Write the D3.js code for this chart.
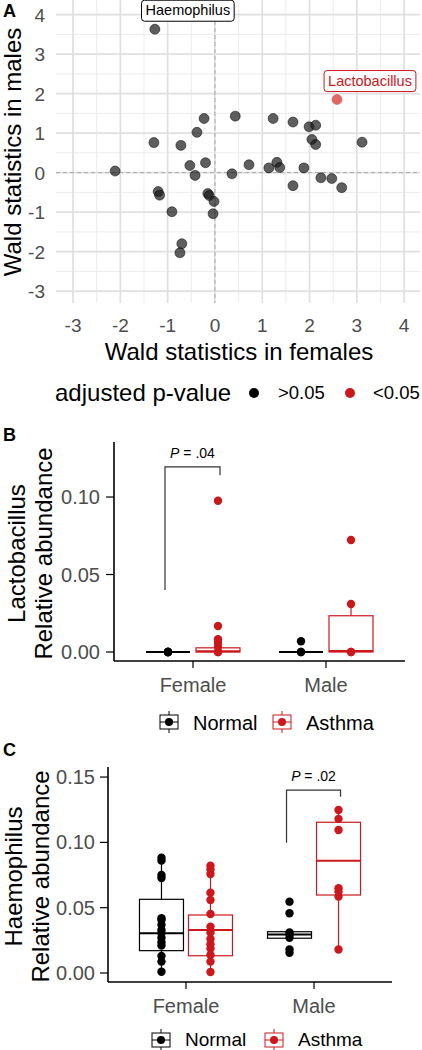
<!DOCTYPE html>
<html><head><meta charset="utf-8">
<script src="https://cdn.jsdelivr.net/npm/d3@7"></script>
<style>body{margin:0;background:#fff}svg{display:block;font-family:"Liberation Sans",Arial,sans-serif}</style>
</head><body>
<script>
// ---------- Panel A data ----------
const waldFemales = [-1.27,-1.29,-0.72,-0.38,-0.23,-2.11,-0.53,-0.42,-0.2,-1.2,-1.17,0.43,1.23,1.65,1.99,2.13,2.05,2.13,3.11,0.36,0.72,1.14,1.31,1.37,1.88,1.65,2.24,2.47,2.68,-0.15,-0.12,-0.02,-0.91,-0.04,-0.7,-0.74,2.58];
const waldMales   = [3.63,0.76,0.69,1.02,1.37,0.04,0.18,-0.07,0.25,-0.48,-0.57,1.43,1.37,1.28,1.16,1.2,0.84,0.71,0.77,-0.03,0.2,0.12,0.26,0.13,0.12,-0.33,-0.13,-0.15,-0.38,-0.53,-0.58,-0.73,-0.99,-1.04,-1.8,-2.03,1.85];
const significant = [0,0,0,0,0,0,0,0,0,0,0,0,0,0,0,0,0,0,0,0,0,0,0,0,0,0,0,0,0,0,0,0,0,0,0,0,1];
const genusLabels = {0:"Haemophilus",36:"Lactobacillus"};
const axisTicksA = [-3,-2,-1,0,1,2,3,4];
const legendA = [">0.05","<0.05"];

// ---------- Panel B/C data ----------
const sexes = ["Female","Male"];
const groups = ["Normal","Asthma"];
// box stats [lo, q1, median, q3, hi] per sex x group
const lactoStats = {
  "Female-Normal":[0,0,0,0,0],
  "Female-Asthma":[0,0,0.0005,0.0027,0.006],
  "Male-Normal":[0,0,0,0,0],
  "Male-Asthma":[0,0,0.0006,0.0234,0.031]
};
const lactoPoints = {
  "Female-Normal":[0,0,0,0,0],
  "Female-Asthma":[0,0,0.0034,0.006,0.0082,0.0168,0.0976],
  "Male-Normal":[0,0,0.0069],
  "Male-Asthma":[0,0,0.031,0.0723]
};
const haemoStats = {
  "Female-Normal":[0.001,0.0171,0.0304,0.0564,0.0883],
  "Female-Asthma":[0.0007,0.0132,0.033,0.0444,0.0822],
  "Male-Normal":[0.0266,0.0266,0.0295,0.0316,0.0316],
  "Male-Asthma":[0.018,0.0597,0.086,0.1154,0.1248]
};
const haemoPoints = {
  "Female-Normal":[0.0883,0.086,0.075,0.0727,0.042,0.0406,0.037,0.033,0.0304,0.027,0.0235,0.021,0.013,0.0087,0.001],
  "Female-Asthma":[0.0822,0.0795,0.0758,0.0615,0.0559,0.0452,0.0355,0.031,0.026,0.022,0.0188,0.0138,0.0087,0.0007],
  "Male-Normal":[0.0546,0.0457,0.031,0.0295,0.027,0.0181,0.0155],
  "Male-Asthma":[0.1248,0.118,0.1095,0.0649,0.0623,0.0586,0.018]
};
const lactoTicks = [0,0.05,0.10];
const haemoTicks = [0,0.05,0.10,0.15];
// significance: [sex, leftEnd, rightEnd, top, label]
const lactoSig = ["Female",0.040,0.114,0.1194,".04"];
const haemoSig = ["Male",0.0998,0.135,0.140,".02"];

const RED = "#cb181d", GREY = "#4d4d4d";

const svg = d3.select("body").append("svg").attr("width",422).attr("height",1050);

// ================= Panel A =================
const xA = d3.scaleLinear().domain([-3.36,4.335]).range([56,420]);
const yA = d3.scaleLinear().domain([-3.3,4.37]).range([303,0]);
const gA = svg.append("g");
const minorX = d3.range(-3.5,4.5,1), minorY = d3.range(-3.5,4.5,1);
gA.selectAll(".mgx").data(minorX.filter(v=>xA(v)>=56)).join("line")
  .attr("x1",d=>xA(d)).attr("x2",d=>xA(d)).attr("y1",0).attr("y2",303).attr("stroke","#ececec").attr("stroke-width",1);
gA.selectAll(".mgy").data(minorY.filter(v=>yA(v)<=303)).join("line")
  .attr("y1",d=>yA(d)).attr("y2",d=>yA(d)).attr("x1",56).attr("x2",420).attr("stroke","#ececec").attr("stroke-width",1);
gA.selectAll(".gx").data(axisTicksA).join("line")
  .attr("x1",d=>xA(d)).attr("x2",d=>xA(d)).attr("y1",0).attr("y2",303).attr("stroke","#e0e0e0").attr("stroke-width",1.7);
gA.selectAll(".gy").data(axisTicksA).join("line")
  .attr("y1",d=>yA(d)).attr("y2",d=>yA(d)).attr("x1",56).attr("x2",420).attr("stroke","#e0e0e0").attr("stroke-width",1.7);
gA.append("line").attr("x1",xA(0)).attr("x2",xA(0)).attr("y1",0).attr("y2",303).attr("stroke","#aaaaaa").attr("stroke-dasharray","4,3");
gA.append("line").attr("y1",yA(0)).attr("y2",yA(0)).attr("x1",56).attr("x2",420).attr("stroke","#aaaaaa").attr("stroke-dasharray","4,3");
gA.selectAll(".tx").data(axisTicksA).join("text").attr("x",d=>xA(d)).attr("y",332)
  .attr("text-anchor","middle").attr("font-size",19).attr("fill",GREY).text(d=>d);
gA.selectAll(".ty").data(axisTicksA).join("text").attr("x",45).attr("y",d=>yA(d)+7)
  .attr("text-anchor","end").attr("font-size",19).attr("fill",GREY).text(d=>d);
gA.append("text").attr("x",239).attr("y",360).attr("text-anchor","middle").attr("font-size",24).text("Wald statistics in females");
gA.append("text").attr("transform","translate(21,152) rotate(-90)").attr("text-anchor","middle").attr("font-size",24).text("Wald statistics in males");
const ptsA = waldFemales.map((x,i)=>({x,y:waldMales[i],s:significant[i],i}));
gA.selectAll(".pt").data(ptsA).join("circle").attr("cx",d=>xA(d.x)).attr("cy",d=>yA(d.y)).attr("r",5)
  .attr("fill",d=>d.s?"#d94040":"#1a1a1a").attr("fill-opacity",d=>d.s?0.8:0.7)
  .attr("stroke",d=>d.s?"#d94040":"#000").attr("stroke-opacity",0.6).attr("stroke-width",0.8);
Object.entries(genusLabels).forEach(([i,name])=>{
  const p = ptsA[+i], col = p.s?RED:"#000";
  const cx = xA(p.x)+33, cy = yA(p.y)-19;
  const t = gA.append("text").attr("x",cx).attr("y",cy+5).attr("text-anchor","middle").attr("font-size",14.5).attr("fill",col).text(name);
  const w = t.node().getComputedTextLength()+8;
  gA.insert("rect","text:last-child").attr("x",cx-w/2).attr("y",cy-10).attr("width",w).attr("height",21).attr("rx",3)
    .attr("fill","#fff").attr("stroke",col).attr("stroke-width",1);
  t.raise();
});
svg.append("text").attr("x",3).attr("y",17).attr("font-size",18).attr("font-weight","bold").text("A");
// legend A
svg.append("text").attr("x",55).attr("y",401).attr("font-size",24).text("adjusted p-value");
svg.append("circle").attr("cx",254).attr("cy",393).attr("r",5).attr("fill","#000");
svg.append("text").attr("x",278).attr("y",399).attr("font-size",18.5).text(legendA[0]);
svg.append("circle").attr("cx",350).attr("cy",393).attr("r",5).attr("fill",RED);
svg.append("text").attr("x",373).attr("y",399).attr("font-size",18.5).text(legendA[1]);

// ================= Box panels =================
function boxPanel(cfg){
  const g = svg.append("g");
  const x = d3.scalePoint().domain(sexes).range([cfg.left,cfg.right]).padding(cfg.pad);
  const dx = d3.scalePoint().domain(groups).range([-cfg.dodge,cfg.dodge]);
  const y = d3.scaleLinear().domain(cfg.ydom).range([cfg.bottom,cfg.top]);
  const bw = 44;
  sexes.forEach(s=>groups.forEach(gr=>{
    const key = s+"-"+gr, st = cfg.stats[key], cx = x(s)+dx(gr), col = gr==="Asthma"?RED:"#000";
    g.append("line").attr("x1",cx).attr("x2",cx).attr("y1",y(st[0])).attr("y2",y(st[4])).attr("stroke",col).attr("stroke-width",1.2);
    g.append("rect").attr("x",cx-bw/2).attr("y",y(st[3])).attr("width",bw).attr("height",Math.max(0,y(st[1])-y(st[3])))
      .attr("fill","#fff").attr("stroke",col).attr("stroke-width",1.2);
    g.append("line").attr("x1",cx-bw/2).attr("x2",cx+bw/2).attr("y1",y(st[2])).attr("y2",y(st[2])).attr("stroke",col).attr("stroke-width",2);
    g.selectAll(null).data(cfg.points[key]).join("circle").attr("cx",cx).attr("cy",d=>y(d)).attr("r",4.2).attr("fill",col);
  }));
  // axes
  g.append("line").attr("x1",cfg.left).attr("x2",cfg.left).attr("y1",cfg.top).attr("y2",cfg.bottom).attr("stroke","#000").attr("stroke-width",1.6);
  g.append("line").attr("x1",cfg.left).attr("x2",cfg.right).attr("y1",cfg.bottom).attr("y2",cfg.bottom).attr("stroke","#000").attr("stroke-width",1.6);
  cfg.ticks.forEach(t=>{
    g.append("line").attr("x1",cfg.left-8).attr("x2",cfg.left).attr("y1",y(t)).attr("y2",y(t)).attr("stroke","#000").attr("stroke-width",1.2);
    g.append("text").attr("x",cfg.left-cfg.tickGap).attr("y",y(t)+7).attr("text-anchor","end").attr("font-size",20).attr("fill",GREY).text(d3.format(".2f")(t));
  });
  sexes.forEach(s=>{
    g.append("line").attr("x1",x(s)).attr("x2",x(s)).attr("y1",cfg.bottom).attr("y2",cfg.bottom+7).attr("stroke","#000").attr("stroke-width",1.2);
    g.append("text").attr("x",x(s)).attr("y",cfg.bottom+31).attr("text-anchor","middle").attr("font-size",20).attr("fill",GREY).text(s);
  });
  // y title
  const yc = (cfg.top+cfg.bottom)/2 + 2;
  g.append("text").attr("transform",`translate(${cfg.t1x},${yc}) rotate(-90)`).attr("text-anchor","middle").attr("font-size",24).text(cfg.genus);
  g.append("text").attr("transform",`translate(${cfg.t1x+27},${yc}) rotate(-90)`).attr("text-anchor","middle").attr("font-size",24).text("Relative abundance");
  // significance
  const sg = cfg.sig, xl = x(sg[0])+dx("Normal")-3, xr = x(sg[0])+dx("Asthma")+2;
  g.append("path").attr("d",`M${xl},${y(sg[1])}V${y(sg[3])}H${xr}V${y(sg[2])}`).attr("fill","none").attr("stroke","#333").attr("stroke-width",1.2);
  const tt = g.append("text").attr("x",(xl+xr)/2).attr("y",y(sg[3])-9).attr("text-anchor","middle").attr("font-size",14);
  tt.append("tspan").attr("font-style","italic").text("P");
  tt.append("tspan").text(" = "+sg[4]);
  // panel letter
  svg.append("text").attr("x",3).attr("y",cfg.letterY).attr("font-size",18).attr("font-weight","bold").text(cfg.letter);
  // legend
  const ly = cfg.legendY;
  [[cfg.legX[0],"Normal","#000"],[cfg.legX[1],"Asthma",RED]].forEach(([lx,lab,col])=>{
    g.append("line").attr("x1",lx+9).attr("x2",lx+9).attr("y1",ly-11).attr("y2",ly+11).attr("stroke",col);
    g.append("rect").attr("x",lx).attr("y",ly-7).attr("width",18).attr("height",14).attr("fill","#fff").attr("stroke",col);
    g.append("line").attr("x1",lx).attr("x2",lx+18).attr("y1",ly).attr("y2",ly).attr("stroke",col);
    g.append("circle").attr("cx",lx+9).attr("cy",ly).attr("r",4).attr("fill",col);
    g.append("text").attr("x",lx+33).attr("y",ly+cfg.legDy).attr("font-size",cfg.legFont).text(lab);
  });
}
boxPanel({left:114,right:405,top:442,bottom:661,pad:0.594,dodge:25,ydom:[-0.0058,0.1355],tickGap:14,
  stats:lactoStats,points:lactoPoints,ticks:lactoTicks,genus:"Lactobacillus",t1x:25,sig:lactoSig,
  letter:"B",letterY:441,legendY:722,legX:[160,273],legDy:8,legFont:20});
boxPanel({left:108,right:392,top:767,bottom:982,pad:0.609,dodge:24.5,ydom:[-0.0069,0.1577],tickGap:13,
  stats:haemoStats,points:haemoPoints,ticks:haemoTicks,genus:"Haemophilus",t1x:22,sig:haemoSig,
  letter:"C",letterY:756,legendY:1040,legX:[152,265],legDy:6,legFont:19});
</script>
</body></html>
